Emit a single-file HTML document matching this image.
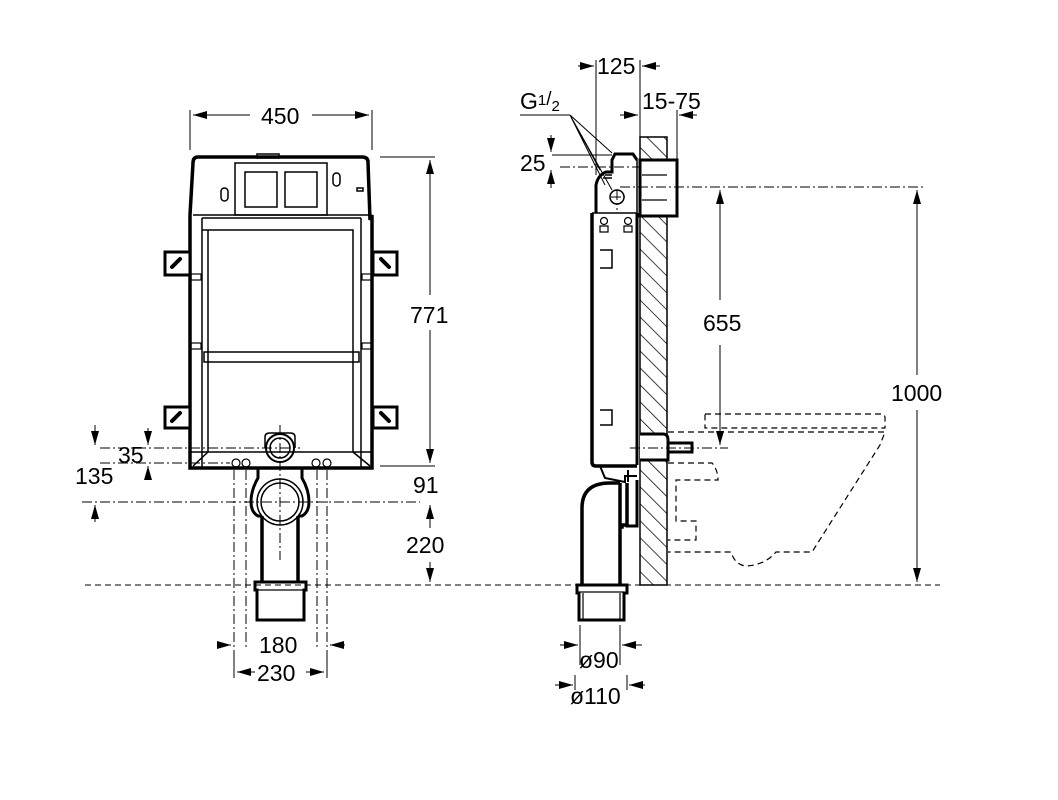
<!DOCTYPE html>
<html><head><style>body{margin:0;background:#fff}svg{display:block}text{font-family:"Liberation Sans",sans-serif;font-size:23px;fill:#000}</style></head>
<body>
<svg width="1058" height="800" viewBox="0 0 1058 800" xmlns="http://www.w3.org/2000/svg">
<defs>
<marker id="a" viewBox="0 0 10 10" refX="10" refY="5" markerWidth="14" markerHeight="8" orient="auto-start-reverse" markerUnits="userSpaceOnUse" preserveAspectRatio="none"><path d="M0,0L10,5L0,10z"/></marker>
<pattern id="h" width="12" height="12" patternUnits="userSpaceOnUse" patternTransform="rotate(-45)"><line x1="0" y1="0" x2="0" y2="12" stroke="#000" stroke-width="1.5"/></pattern>
</defs>
<g fill="none" stroke="#000">
<!-- LEFT VIEW -->
<path d="M190,215 V468 H372 V215 L370,220 L368,162 Q368,157 362,157 H198 Q193,157 193,163 L190,215" stroke-width="3.5" fill="#fff"/>
<line x1="193" y1="215" x2="370" y2="215" stroke-width="1.5"/>
<rect x="257" y="154" width="22" height="4" stroke-width="1.5"/>
<rect x="235" y="163" width="92" height="52" stroke-width="1.5"/>
<rect x="245" y="172" width="32" height="35" stroke-width="1.5"/>
<rect x="285" y="172" width="32" height="35" stroke-width="1.5"/>
<rect x="221" y="188" width="7" height="13" rx="3.5" stroke-width="1.5"/>
<rect x="333" y="173" width="7" height="13" rx="3.5" stroke-width="1.5"/>
<rect x="357" y="188" width="6" height="3" stroke-width="1.5"/>
<path d="M202,468 V218 M208,452 V230 H353 V452 M361,468 V218 M202,230 H208 M202,218 H361 M204,352 H359 V362 H204Z M208,362 V452 H353 V362 M190,452 H372 M208,452 L193,466 M353,452 L370,466" stroke-width="1.5"/>
<path d="M165,252 H190 V275 H165Z M165,407 H190 V428 H165Z M373,252 H397 V275 H373Z M373,407 H397 V428 H373Z" stroke-width="3" fill="#fff"/>
<path d="M172,267 l8,-8 M172,421 l8,-8 M381,259 l8,8 M381,413 l8,8" stroke-width="4" stroke-linecap="round"/>
<rect x="191" y="274" width="10" height="6" stroke-width="1.2"/><rect x="191" y="343" width="10" height="6" stroke-width="1.2"/><rect x="362" y="274" width="10" height="6" stroke-width="1.2"/><rect x="362" y="343" width="10" height="6" stroke-width="1.2"/>
<circle cx="280" cy="448" r="14" stroke-width="2"/><circle cx="280" cy="448" r="10" stroke-width="1.5"/>
<path d="M265,448 V437 Q265,433 270,433 H290 Q295,433 295,437 V448" stroke-width="1.5"/>
<circle cx="236" cy="463" r="4" stroke-width="1.2"/><circle cx="246" cy="463" r="4" stroke-width="1.2"/><circle cx="316" cy="463" r="4" stroke-width="1.2"/><circle cx="327" cy="463" r="4" stroke-width="1.2"/>
<path d="M258,468 V478 Q251,490 251,502 Q251,512 258,516 H262 M302,468 V478 Q309,490 309,502 Q309,512 302,516 H298" stroke-width="3"/>
<path d="M262,516 V582 M298,516 V582" stroke-width="3.5"/>
<circle cx="280" cy="502" r="23" stroke-width="1.5"/><circle cx="280" cy="502" r="19" stroke-width="1.5"/>
<path d="M255,582 H306 V590 H304 V620 H257 V590 H255Z" stroke-width="3" fill="#fff"/>
<line x1="257" y1="590" x2="304" y2="590" stroke-width="1.2"/>
<g stroke-width="1" stroke-dasharray="10,3,2,3">
<line x1="280" y1="425" x2="280" y2="560"/>
<line x1="234" y1="470" x2="234" y2="650"/><line x1="246" y1="470" x2="246" y2="650"/>
<line x1="317" y1="470" x2="317" y2="650"/><line x1="327" y1="470" x2="327" y2="650"/>
<line x1="82" y1="502" x2="420" y2="502"/>
<line x1="100" y1="448" x2="300" y2="448"/>
<line x1="100" y1="463" x2="230" y2="463"/>
</g>
<line x1="85" y1="585" x2="940" y2="585" stroke-width="1" stroke-dasharray="6,4"/>
<g stroke-width="1">
<line x1="190" y1="110" x2="190" y2="150"/><line x1="372" y1="110" x2="372" y2="150"/>
<line x1="193" y1="115" x2="250" y2="115" marker-start="url(#a)"/><line x1="312" y1="115" x2="369" y2="115" marker-end="url(#a)"/>
<line x1="380" y1="157" x2="435" y2="157"/><line x1="380" y1="466" x2="435" y2="466"/>
<line x1="430" y1="160" x2="430" y2="295" marker-start="url(#a)"/><line x1="430" y1="330" x2="430" y2="463" marker-end="url(#a)"/>
<line x1="430" y1="505" x2="430" y2="528" marker-start="url(#a)"/><line x1="430" y1="562" x2="430" y2="582" marker-end="url(#a)"/>
<line x1="148" y1="428" x2="148" y2="445" marker-end="url(#a)"/><line x1="148" y1="466" x2="148" y2="480" marker-start="url(#a)"/>
<line x1="95" y1="425" x2="95" y2="445" marker-end="url(#a)"/><line x1="95" y1="505" x2="95" y2="522" marker-start="url(#a)"/>
<line x1="217" y1="645" x2="231" y2="645" marker-end="url(#a)"/><line x1="345" y1="645" x2="330" y2="645" marker-end="url(#a)"/>
<line x1="237" y1="672" x2="255" y2="672" marker-start="url(#a)"/><line x1="306" y1="672" x2="324" y2="672" marker-end="url(#a)"/>
<line x1="234" y1="650" x2="234" y2="678"/><line x1="327" y1="650" x2="327" y2="678"/>
</g>
<!-- RIGHT VIEW -->
<rect x="640" y="137" width="27" height="448" fill="url(#h)" stroke-width="1.5"/>
<rect x="640" y="160" width="37" height="56" fill="#fff" stroke-width="3"/>
<path d="M642,175 H667 M642,200 H667" stroke-width="1.2"/>
<path d="M637,160 V216 M592,213 H637" stroke-width="1.5"/>
<path d="M637,465 V213 M596,213 V185 Q598,175 606,172 L612,172 V160 L615,154 H633 L637,160" stroke-width="3"/>
<path d="M592,213 V462 Q592,466 596,466 H637" stroke-width="3.5"/>
<path d="M605,175 L612,175 M603,178 H612" stroke-width="1.5"/>
<circle cx="617" cy="197" r="7" stroke-width="1.5"/>
<path d="M600,268 H612 V250 H600 M600,410 H612 V425 H600" stroke-width="1.5"/>
<circle cx="604" cy="221" r="3.5" stroke-width="1.2"/><circle cx="628" cy="221" r="3.5" stroke-width="1.2"/>
<path d="M600,226 H608 V232 H600Z M624,226 H632 V232 H624Z" stroke-width="1.2"/>
<path d="M640,434 H663 Q668,434 668,440 V460 H640" stroke-width="3" fill="#fff"/>
<path d="M668,443 H692 V452 H668" stroke-width="3"/>
<path d="M600,466 L605,478 L625,482 V476 H637 M628,482 V470" stroke-width="2"/>
<path d="M582,585 V508 Q582,483 610,483 H620 M620,483 V525 H627 V483 M622,525 V527 H620 Q620,525 620,530 V585" stroke-width="3.5"/>
<path d="M627,483 V526 H637 V480" stroke-width="3"/>
<path d="M577,585 H627 V593 H624 V620 H579 V593 H577Z" stroke-width="3" fill="#fff"/>
<path d="M579,592 H624 M583,593 V620 M620,593 V620" stroke-width="1.2"/>
<g stroke-width="1.2" stroke-dasharray="6,4">
<path d="M705,414 H881 Q885,414 885,418 V428 H705Z"/>
<path d="M668,432 H885 L880,445 L812,552 H776 Q765,565 746,566 Q735,565 731,552 H668"/>
<path d="M668,463 H712 Q718,470 718,480 H676 V521 H696 V540 H668"/>
</g>
<g stroke-width="1" stroke-dasharray="10,3,2,3">
<line x1="560" y1="167" x2="640" y2="167"/>
<line x1="620" y1="187" x2="925" y2="187"/>
<line x1="611" y1="197" x2="625" y2="197"/><line x1="617" y1="190" x2="617" y2="210"/>
<line x1="630" y1="448" x2="728" y2="448"/>
</g>
<g stroke-width="1">
<line x1="596" y1="60" x2="596" y2="175"/><line x1="640" y1="60" x2="640" y2="137"/>
<line x1="578" y1="66" x2="594" y2="66" marker-end="url(#a)"/><line x1="660" y1="66" x2="642" y2="66" marker-end="url(#a)"/>
<line x1="677" y1="110" x2="677" y2="160"/>
<line x1="620" y1="115" x2="638" y2="115" marker-end="url(#a)"/><line x1="697" y1="115" x2="679" y2="115" marker-end="url(#a)"/>
<line x1="520" y1="115" x2="570" y2="115"/>
<path d="M570,115 L612,153 M570,115 L600,170 M570,115 L605,185 M570,115 L612,190"/>
<line x1="552" y1="155" x2="612" y2="155"/>
<line x1="551" y1="135" x2="551" y2="152" marker-end="url(#a)"/><line x1="551" y1="188" x2="551" y2="170" marker-end="url(#a)"/>
<line x1="720" y1="190" x2="720" y2="300" marker-start="url(#a)"/><line x1="720" y1="345" x2="720" y2="445" marker-end="url(#a)"/>
<line x1="917" y1="190" x2="917" y2="375" marker-start="url(#a)"/><line x1="917" y1="410" x2="917" y2="582" marker-end="url(#a)"/>
<line x1="580" y1="625" x2="580" y2="665"/><line x1="620" y1="625" x2="620" y2="665"/>
<line x1="560" y1="645" x2="578" y2="645" marker-end="url(#a)"/><line x1="642" y1="645" x2="622" y2="645" marker-end="url(#a)"/>
<line x1="575" y1="675" x2="575" y2="690"/><line x1="627" y1="675" x2="627" y2="690"/>
<line x1="555" y1="685" x2="573" y2="685" marker-end="url(#a)"/><line x1="645" y1="685" x2="629" y2="685" marker-end="url(#a)"/>
</g>
</g>
<text x="261" y="124">450</text>
<text x="410" y="323">771</text>
<text x="413" y="493">91</text>
<text x="406" y="553">220</text>
<text x="118" y="463">35</text>
<text x="75" y="484">135</text>
<text x="259" y="653">180</text>
<text x="257" y="681">230</text>
<text x="597" y="74">125</text>
<text x="642" y="109">15-75</text>
<text x="520" y="109">G<tspan font-size="15" dy="-4">1</tspan><tspan font-size="19" dy="0">/</tspan><tspan font-size="15" dy="6">2</tspan></text>
<text x="520" y="171">25</text>
<text x="703" y="331">655</text>
<text x="891" y="401">1000</text>
<text x="579" y="668">ø90</text>
<text x="570" y="704">ø110</text>
</svg>
</body></html>
